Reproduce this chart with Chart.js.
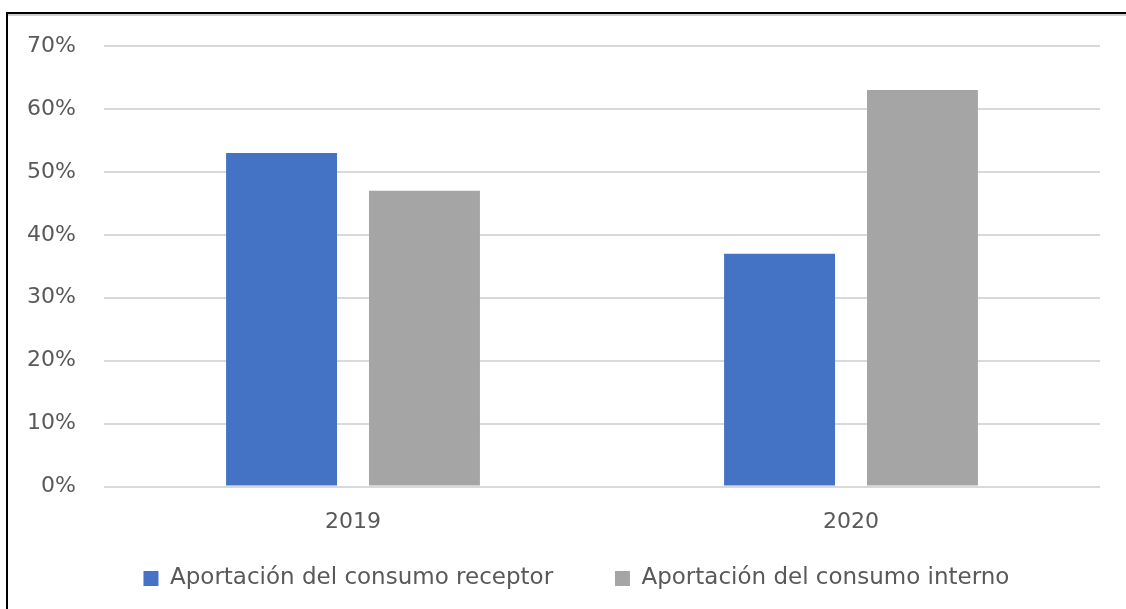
<!DOCTYPE html>
<html>
<head>
<meta charset="utf-8">
<script src="https://cdn.jsdelivr.net/npm/chart.js@4/dist/chart.umd.min.js"></script>
<style>
  html, body { margin: 0; padding: 0; background: #fff; }
  #frame {
    position: absolute; left: 6px; top: 12px; width: 1130px; height: 610px;
    border-top: 2px solid #000; border-left: 2px solid #000;
    box-shadow: inset 0 2px 0 0 #d0d0d0;
  }
  #wrap { position: absolute; left: 0; top: 0; width: 1126px; height: 609px; }
</style>
</head>
<body>
<div id="frame"></div>
<div id="wrap"><canvas id="chart"></canvas></div>
<script>
const years = ['2019', '2020'];
const receptor = [53, 37];
const interno = [47, 63];
const seriesLabels = ['Aportación del consumo receptor', 'Aportación del consumo interno'];

const textColor = '#595959';
const fontFamily = "'DejaVu Sans', sans-serif";

new Chart(document.getElementById('chart').getContext('2d'), {
    type: 'bar',
    data: {
        labels: years,
        datasets: [{
            label: seriesLabels[0],
            data: receptor,
            backgroundColor: '#4472C4',
            barPercentage: 0.776,
            categoryPercentage: 0.574
        }, {
            label: seriesLabels[1],
            data: interno,
            backgroundColor: '#A5A5A5',
            barPercentage: 0.776,
            categoryPercentage: 0.574
        }]
    },
    options: {
        responsive: true,
        maintainAspectRatio: false,
        animation: false,
        layout: { padding: { left: 28, right: 26, top: 46, bottom: 9 } },
        plugins: {
            tooltip: { enabled: false },
            legend: {
                position: 'bottom',
                fullSize: false,
                labels: {
                    color: textColor,
                    font: { family: fontFamily, size: 23 },
                    boxWidth: 15,
                    boxHeight: 15,
                    padding: 18,
                    // wider gap between entries and a small shift left, like the original
                    generateLabels: (chart) => {
                        const items = Chart.defaults.plugins.legend.labels.generateLabels(chart);
                        items[0].text += '\u00a0'.repeat(6);
                        items[1].text += '\u00a0'.repeat(7);
                        return items;
                    }
                }
            }
        },
        scales: {
            x: {
                grid: { display: false },
                border: { display: false },
                ticks: { color: textColor, font: { family: fontFamily, size: 22 }, padding: 14 }
            },
            y: {
                min: 0,
                max: 70,
                afterFit: (scale) => { scale.width = 76; },
                grid: { color: '#d9d9d9', lineWidth: 2, drawTicks: false },
                border: { display: false },
                ticks: {
                    stepSize: 10,
                    padding: 28,
                    color: textColor,
                    font: { family: fontFamily, size: 22 },
                    callback: (v) => v + '%'
                }
            }
        }
    }
});
</script>
</body>
</html>
